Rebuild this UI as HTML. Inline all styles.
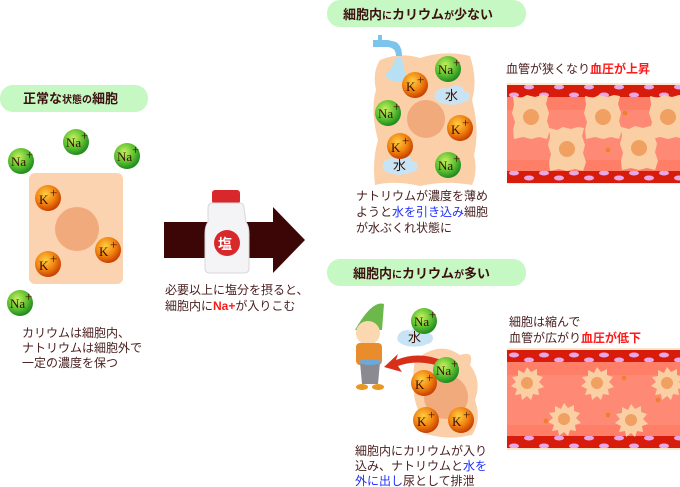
<!DOCTYPE html>
<html><head><meta charset="utf-8"><style>
body{margin:0;background:#fff;}
svg{display:block;font-family:"Liberation Sans","Noto Sans CJK JP",sans-serif;}
.t{font-size:12px;fill:#4a2020;}
.h{font-size:13px;font-weight:bold;fill:#3d1010;}
.ion{font-family:"Liberation Serif","Noto Serif CJK SC",serif;font-size:13px;fill:#3a1000;}
</style></head><body>
<svg width="680" height="487" viewBox="0 0 680 487" xmlns="http://www.w3.org/2000/svg">
<defs>
<radialGradient id="na" cx="40%" cy="35%" r="65%"><stop offset="0" stop-color="#c8f060"/><stop offset="0.6" stop-color="#5cc030"/><stop offset="1" stop-color="#1f8a1f"/></radialGradient>
<radialGradient id="k" cx="40%" cy="35%" r="65%"><stop offset="0" stop-color="#ffd040"/><stop offset="0.6" stop-color="#f08010"/><stop offset="1" stop-color="#c84000"/></radialGradient>
<pattern id="rbc" x="507" y="0" width="30" height="13" patternUnits="userSpaceOnUse">
<rect width="30" height="13" fill="#d81c0c"/>
<ellipse cx="7" cy="4" rx="5" ry="2.5" fill="#e8a8e8"/><ellipse cx="22" cy="9" rx="5" ry="2.5" fill="#e8a8e8"/>
</pattern>
<g id="NA"><circle r="13" fill="url(#na)"/><text class="ion" x="-10" y="5">Na</text><text class="ion" x="5" y="-2" font-size="11">+</text></g>
<g id="K"><circle r="13" fill="url(#k)"/><text class="ion" x="-9" y="6" font-size="15">K</text><text class="ion" x="2" y="-1" font-size="13">+</text></g>
<g id="W"><path d="M-17,4 C-20,-4 -10,-9 -4,-6 C0,-12 12,-10 12,-4 C20,-4 20,6 12,7 C6,11 -12,11 -17,4Z" fill="#c8e4f4"/><text x="-7" y="5" font-size="13" fill="#3a1000">水</text></g>
<g id="bigcell"><path d="M-18,-21 l8,2 l6,-3 l8,2 l7,-2 l6,1 l-2,8 l3,9 l-2,8 l3,9 l-3,9 l-8,-2 l-8,2 l-8,-2 l-9,2 l-1,-9 l2,-8 l-3,-9 l2,-8z" fill="#fbcfa4"/><circle r="8" fill="#f0a060"/></g>
<g id="smcell"><path d="M0,-16 l4,5 l6,-3 l0,6 l6,2 l-4,5 l5,5 l-6,2 l1,6 l-6,-1 l-2,6 l-4,-4 l-5,4 l-1,-6 l-6,1 l2,-6 l-6,-3 l5,-4 l-4,-5 l6,-1 l0,-6 l6,3z" fill="#fbcfa4"/><circle r="6" fill="#f0a060"/></g>
</defs>

<!-- left -->
<rect x="0" y="85" width="148" height="27" rx="13" fill="#c6f8c4"/>
<text class="h" x="23" y="103">正常な<tspan font-size="10">状態の</tspan>細胞</text>
<rect x="29" y="173" width="94" height="111" rx="6" fill="#fcd3b0"/>
<circle cx="77" cy="229" r="22" fill="#f1aa7c"/>
<use href="#NA" x="76" y="142"/><use href="#NA" x="21" y="161"/><use href="#NA" x="127" y="156"/><use href="#NA" x="20" y="303"/>
<use href="#K" x="48" y="198"/><use href="#K" x="48" y="264"/><use href="#K" x="108" y="250"/>
<text class="t" x="22" y="337">カリウムは細胞内、</text>
<text class="t" x="22" y="352">ナトリウムは細胞外で</text>
<text class="t" x="22" y="367">一定の濃度を保つ</text>

<!-- arrow + bottle -->
<rect x="164" y="222" width="112" height="36" fill="#3d0606"/>
<path d="M273,207 L305,240 L273,273Z" fill="#3d0606"/>
<rect x="212" y="190" width="28" height="14" rx="3" fill="#d8282c"/>
<path d="M208,208 Q208,203 213,203 L239,203 Q244,203 244,208 L246,222 Q249,226 249,234 L249,268 Q249,273 244,273 L210,273 Q205,273 205,268 L205,234 Q205,226 208,222Z" fill="#f4f4f6" stroke="#d8d8dc"/>
<circle cx="227" cy="243" r="13" fill="#d8282c"/>
<text x="218" y="249" font-size="14" font-weight="bold" fill="#fff">塩</text>
<text class="t" x="165" y="294">必要以上に塩分を摂ると、</text>
<text class="t" x="165" y="310">細胞内に<tspan fill="#ff1a1a" font-weight="bold">Na+</tspan>が入りこむ</text>

<!-- top -->
<rect x="327" y="0" width="199" height="27" rx="13" fill="#c6f8c4"/>
<text class="h" x="343" y="19">細胞内<tspan font-size="10">に</tspan>カリウム<tspan font-size="10">が</tspan>少ない</text>
<path d="M380,60 Q400,52 420,58 Q445,50 470,56 Q478,80 472,100 Q480,130 474,155 Q478,172 472,185 Q445,180 420,186 Q395,180 375,185 Q372,160 378,140 Q370,110 376,90 Q372,72 380,60Z" fill="#fbcfa8"/>
<path d="M373,40 L388,40 L396,42 Q402,46 402,56 L396,56 Q396,48 388,47 L373,47Z" fill="#7cc4ec"/>
<rect x="378" y="35" width="4" height="6" fill="#7cc4ec"/>
<path d="M396,57 L402,57 L404,70 Q410,78 400,82 Q388,82 385,74 Q392,70 396,57Z" fill="#b8e0f4"/>
<circle cx="426" cy="119" r="19" fill="#f1aa7c"/>
<use href="#W" x="452" y="95"/><use href="#W" x="400" y="165"/>
<use href="#NA" x="448" y="69"/><use href="#K" x="415" y="85"/><use href="#NA" x="388" y="113"/><use href="#K" x="460" y="128"/><use href="#K" x="400" y="146"/><use href="#NA" x="448" y="165"/>
<text class="t" x="356" y="200">ナトリウムが濃度を薄め</text>
<text class="t" x="356" y="216">ようと<tspan fill="#2030ff">水を引き込み</tspan>細胞</text>
<text class="t" x="356" y="232">が水ぶくれ状態に</text>
<text class="t" x="506" y="73">血管が狭くなり<tspan fill="#ff1a1a" font-weight="bold">血圧が上昇</tspan></text>
<rect x="507" y="83" width="173" height="101" fill="#fde6c8"/>
<rect x="507" y="85" width="173" height="12" fill="url(#rbc)"/>
<rect x="507" y="171" width="173" height="12" fill="url(#rbc)"/>
<rect x="507" y="97" width="173" height="74" fill="#fe7e68"/>
<rect x="507" y="110" width="173" height="50" fill="#fe8a76"/>
<use href="#bigcell" x="531" y="117"/><use href="#bigcell" x="603" y="117"/><use href="#bigcell" x="668" y="117"/>
<use href="#bigcell" x="567" y="149"/><use href="#bigcell" x="639" y="148"/>
<circle cx="625" cy="113" r="2.5" fill="#f08030"/><circle cx="608" cy="150" r="2.5" fill="#f08030"/>

<!-- bottom -->
<rect x="327" y="259" width="199" height="27" rx="13" fill="#c6f8c4"/>
<text class="h" x="353" y="278">細胞内<tspan font-size="10">に</tspan>カリウム<tspan font-size="10">が</tspan>多い</text>
<path d="M415,360 Q440,340 460,355 Q475,350 470,365 Q482,380 475,400 Q482,420 472,435 Q450,440 430,435 Q410,430 418,410 Q410,390 415,360Z" fill="#fbcfa8"/>
<circle cx="446" cy="397" r="22" fill="#f1aa7c"/>
<path d="M446,362 Q420,350 396,360 L398,354 L384,367 L402,372 L398,366 Q420,358 444,368Z" fill="#d83018"/>
<path d="M355,330 Q372,300 384,304 L382,330Z" fill="#6cb84a"/>
<circle cx="368" cy="333" r="12" fill="#fcd8b0"/>
<rect x="356" y="343" width="26" height="22" rx="4" fill="#e88c2c"/>
<path d="M360,362 L380,362 L378,384 L362,384Z" fill="#8a8a90"/>
<ellipse cx="370" cy="362" rx="11" ry="3" fill="#6fa8d8"/>
<ellipse cx="362" cy="387" rx="6" ry="3" fill="#e89820"/><ellipse cx="378" cy="387" rx="6" ry="3" fill="#e89820"/>
<use href="#W" x="415" y="337"/>
<use href="#NA" x="424" y="321"/><use href="#NA" x="446" y="370"/><use href="#K" x="424" y="383"/><use href="#K" x="426" y="420"/><use href="#K" x="461" y="420"/>
<text class="t" x="355" y="455">細胞内にカリウムが入り</text>
<text class="t" x="355" y="470">込み、ナトリウムと<tspan fill="#2030ff">水を</tspan></text>
<text class="t" x="355" y="485"><tspan fill="#2030ff">外に出し</tspan>尿として排泄</text>
<text class="t" x="509" y="326">細胞は縮んで</text>
<text class="t" x="509" y="342">血管が広がり<tspan fill="#ff1a1a" font-weight="bold">血圧が低下</tspan></text>
<rect x="507" y="348" width="173" height="102" fill="#fde6c8"/>
<rect x="507" y="350" width="173" height="12" fill="url(#rbc)"/>
<rect x="507" y="436" width="173" height="12" fill="url(#rbc)"/>
<rect x="507" y="362" width="173" height="74" fill="#fe7e68"/>
<rect x="507" y="375" width="173" height="50" fill="#fe8a76"/>
<use href="#smcell" x="527" y="383"/><use href="#smcell" x="597" y="383"/><use href="#smcell" x="667" y="383"/>
<use href="#smcell" x="564" y="419"/><use href="#smcell" x="631" y="420"/>
<circle cx="624" cy="378" r="2.5" fill="#f08030"/><circle cx="608" cy="415" r="2.5" fill="#f08030"/><circle cx="546" cy="421" r="2.5" fill="#f08030"/><circle cx="658" cy="400" r="2.5" fill="#f08030"/>
</svg>
</body></html>
